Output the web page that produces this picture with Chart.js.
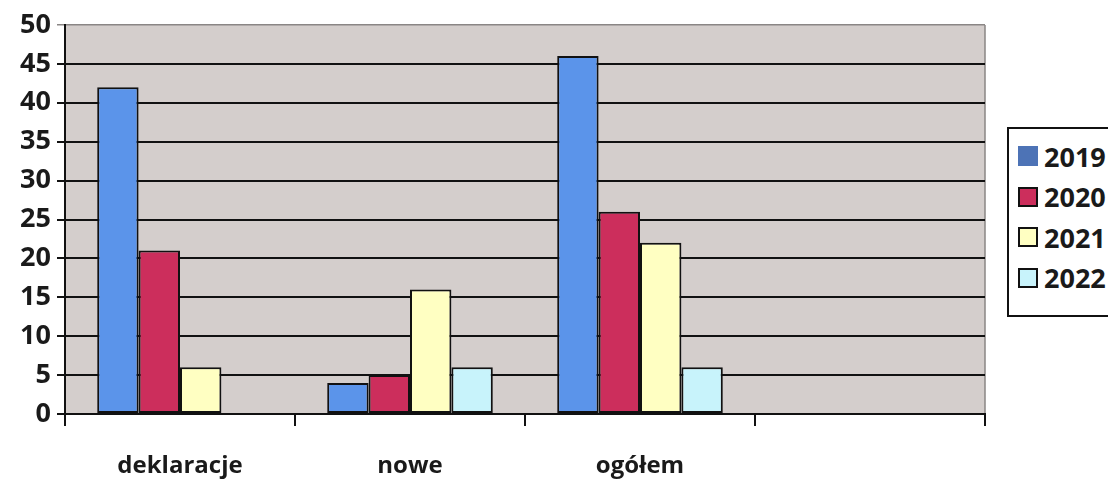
<!DOCTYPE html>
<html lang="pl">
<head>
    <meta charset="UTF-8">
    <title>Wykres</title>
    <script src="https://cdn.jsdelivr.net/npm/chart.js"></script>
    <style>
        body {
            margin: 0;
            background: #ffffff;
            font-family: 'Open Sans', sans-serif;
        }
        .wrap {
            position: relative;
            width: 1108px;
            height: 479px;
            overflow: hidden;
        }
        .legend {
            position: absolute;
            left: 1007px;
            top: 127px;
            width: 130px;
            height: 190px;
            border: 2px solid #111;
            background: #fff;
            box-sizing: border-box;
            padding-top: 7px;
        }
        .legend div {
            height: 40.5px;
            display: flex;
            align-items: center;
            font-weight: 700;
            font-size: 27px;
            color: #1a1a1a;
        }
        .legend span {
            display: inline-block;
            width: 20px;
            height: 20px;
            margin: 0 6px 0 9px;
            border: 2px solid #111;
            box-sizing: border-box;
        }
    </style>
</head>
<body>
<div class="wrap">
    <canvas id="chart" width="1108" height="479"></canvas>
    <div class="legend" id="legend"></div>
</div>
<script>
    const categories = ['deklaracje', 'nowe', 'ogółem', ''];
    const years = ['2019', '2020', '2021', '2022'];
    const values2019 = [42, 4, 46, null];
    const values2020 = [21, 5, 26, null];
    const values2021 = [6, 16, 22, null];
    const values2022 = [null, 6, 6, null];
    const yTicks = [0, 5, 10, 15, 20, 25, 30, 35, 40, 45, 50];

    const barColors = ['#5b94ea', '#cc2e5c', '#ffffc2', '#c8f3fb'];
    const allValues = [values2019, values2020, values2021, values2022];

    // Hintergrund der Zeichenfläche
    const plotBg = {
        id: 'plotBg',
        beforeDraw(chart) {
            const {ctx, chartArea: a} = chart;
            ctx.save();
            ctx.fillStyle = '#d4cecc';
            ctx.fillRect(a.left, a.top, a.right - a.left, a.bottom - a.top);
            ctx.strokeStyle = '#8a8685';
            ctx.lineWidth = 1.5;
            ctx.beginPath();
            ctx.moveTo(a.right, a.top);
            ctx.lineTo(a.right, a.bottom);
            ctx.stroke();
            ctx.restore();
        }
    };

    new Chart(document.getElementById('chart'), {
        type: 'bar',
        data: {
            labels: categories,
            datasets: years.map((y, i) => ({
                label: y,
                data: allValues[i],
                backgroundColor: barColors[i],
                borderColor: '#111',
                borderWidth: 2,
                borderSkipped: false,
                categoryPercentage: 0.72,
                barPercentage: 1
            }))
        },
        options: {
            responsive: false,
            animation: false,
            layout: {padding: {top: 25, right: 123, left: 0, bottom: 0}},
            plugins: {
                legend: {display: false},
                tooltip: {enabled: false}
            },
            scales: {
                x: {
                    afterFit(scale) { scale.height = 65; },
                    grid: {
                        offset: true,
                        drawOnChartArea: false,
                        color: '#111',
                        lineWidth: 2,
                        tickLength: 12
                    },
                    border: {color: '#111', width: 2},
                    ticks: {
                        padding: 26,
                        color: '#1a1a1a',
                        font: {family: 'Open Sans', size: 24, weight: '700'}
                    }
                },
                y: {
                    min: 0,
                    max: 50,
                    afterFit(scale) { scale.width = 65; },
                    afterBuildTicks(scale) { scale.ticks = yTicks.map(v => ({value: v})); },
                    grid: {
                        color: ctx => ctx.tick && ctx.tick.value === 50 ? '#8a8685' : '#111',
                        lineWidth: ctx => ctx.tick && ctx.tick.value === 50 ? 1.5 : 2,
                        tickLength: 8
                    },
                    border: {color: '#111', width: 2},
                    ticks: {
                        padding: 6,
                        color: '#1a1a1a',
                        font: {family: 'Open Sans', size: 27, weight: '700'}
                    }
                }
            }
        },
        plugins: [plotBg]
    });

    const legend = document.getElementById('legend');
    years.forEach((y, i) => {
        const row = document.createElement('div');
        const sw = document.createElement('span');
        sw.style.background = i === 0 ? '#4d73b6' : barColors[i];
        if (i === 0) sw.style.borderColor = '#4d73b6';
        row.appendChild(sw);
        row.appendChild(document.createTextNode(y));
        legend.appendChild(row);
    });
</script>
</body>
</html>
